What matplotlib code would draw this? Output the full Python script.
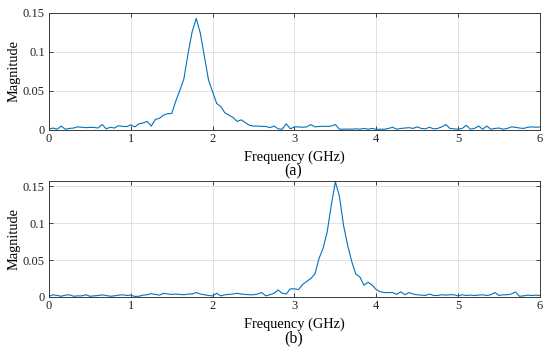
import numpy as np
import matplotlib
matplotlib.use("Agg")
import matplotlib.pyplot as plt
from matplotlib.ticker import FormatStrFormatter

# Frequency grid (GHz), 0.05 GHz spacing
freq = np.linspace(0, 6, 121)

mag_a = [
    0.001, 0.0025, 0.001, 0.005, 0.001, 0.002, 0.0025, 0.004, 0.0035, 0.003,
    0.0033, 0.0033, 0.0025, 0.007, 0.0015, 0.0035, 0.0025, 0.0055, 0.0047, 0.0043,
    0.0065, 0.004, 0.008, 0.009, 0.011, 0.005, 0.0135, 0.015, 0.019, 0.021,
    0.021, 0.037, 0.051, 0.066, 0.098, 0.126, 0.143, 0.124, 0.094, 0.064,
    0.049, 0.034, 0.030, 0.022, 0.019, 0.016, 0.011, 0.013, 0.0095, 0.006,
    0.005, 0.005, 0.0047, 0.0045, 0.003, 0.005, 0.0015, 0.001, 0.008, 0.0015,
    0.004, 0.004, 0.0035, 0.004, 0.007, 0.004, 0.0045, 0.0047, 0.0047, 0.005,
    0.007, 0.001, 0.001, 0.0012, 0.001, 0.0015, 0.001, 0.002, 0.001, 0.002,
    0.0008, 0.001, 0.001, 0.002, 0.0035, 0.001, 0.002, 0.0025, 0.003, 0.002,
    0.004, 0.002, 0.0015, 0.0035, 0.0015, 0.002, 0.004, 0.007, 0.002, 0.0015,
    0.001, 0.002, 0.006, 0.001, 0.002, 0.005, 0.001, 0.005, 0.001, 0.002,
    0.0025, 0.001, 0.002, 0.004, 0.0035, 0.0025, 0.002, 0.0035, 0.004, 0.0035,
    0.004,
]

mag_b = [
    0.001, 0.003, 0.002, 0.001, 0.0025, 0.003, 0.001, 0.0015, 0.0015, 0.003,
    0.001, 0.0015, 0.002, 0.0028, 0.002, 0.001, 0.0015, 0.0025, 0.003, 0.002,
    0.0025, 0.0008, 0.001, 0.0025, 0.003, 0.0045, 0.0035, 0.0025, 0.005, 0.004,
    0.0035, 0.004, 0.0035, 0.003, 0.004, 0.004, 0.006, 0.004, 0.003, 0.002,
    0.0015, 0.005, 0.0015, 0.003, 0.0035, 0.004, 0.005, 0.004, 0.0035, 0.003,
    0.003, 0.004, 0.006, 0.0015, 0.003, 0.005, 0.0095, 0.005, 0.004, 0.011,
    0.011, 0.010, 0.017, 0.021, 0.025, 0.031, 0.052, 0.066, 0.088, 0.124,
    0.156, 0.136, 0.097, 0.070, 0.048, 0.031, 0.027, 0.016, 0.020, 0.016,
    0.010, 0.007, 0.006, 0.006, 0.006, 0.0035, 0.007, 0.003, 0.006, 0.004,
    0.003, 0.0025, 0.002, 0.004, 0.002, 0.002, 0.003, 0.0025, 0.003, 0.003,
    0.0015, 0.003, 0.002, 0.0025, 0.002, 0.0025, 0.003, 0.002, 0.003, 0.006,
    0.002, 0.003, 0.003, 0.004, 0.0068, 0.001, 0.0015, 0.0025, 0.002, 0.0025,
    0.002,
]

x_ticks = [0, 1, 2, 3, 4, 5, 6]
y_ticks = [0, 0.05, 0.1, 0.15]
panel_labels = ["(a)", "(b)"]
xlabel = "Frequency (GHz)"
ylabel = "Magnitude"

plt.rcParams["font.family"] = ["Liberation Serif", "DejaVu Serif"]

fig = plt.figure(figsize=(5.5, 3.52), dpi=100)
ax_a = fig.add_axes([0.089, 0.6307, 0.8927, 0.3324])
ax_b = fig.add_axes([0.089, 0.1563, 0.8927, 0.3295])

line_color = "#0072BD"
edge = "#3a3a3a"

panels = [(ax_a, mag_a, 0.15, panel_labels[0], 1 - 171 / 352),
          (ax_b, mag_b, 0.157, panel_labels[1], 1 - 338 / 352)]

for ax, mag, ymax, lab, ylab_pos in panels:
    ax.plot(freq, mag, color=line_color, lw=0.8)
    ax.set_xlim(0, 6)
    ax.set_ylim(0, ymax)
    ax.set_xticks(x_ticks)
    ax.set_yticks(y_ticks)
    ax.yaxis.set_major_formatter(FormatStrFormatter("%g"))
    ax.grid(True, color="#dcdcdc", lw=0.6)
    ax.set_axisbelow(True)
    ax.tick_params(direction="in", length=3, width=0.6, top=True, right=True,
                   labelsize=9, colors="#222222")
    ax.tick_params(axis="x", pad=2)
    ax.tick_params(axis="y", pad=3)
    for s in ax.spines.values():
        s.set_color(edge)
        s.set_linewidth(0.7)
    ax.set_xlabel(xlabel, fontsize=10.4)
    ax.set_ylabel(ylabel, fontsize=10.4)
    ax.xaxis.set_label_coords(0.5, -0.175)
    ax.yaxis.set_label_coords(-0.058, 0.5)
    fig.text(0.533, ylab_pos, lab, ha="center", va="center", fontsize=11.5)

fig.savefig("out.png", dpi=100)
